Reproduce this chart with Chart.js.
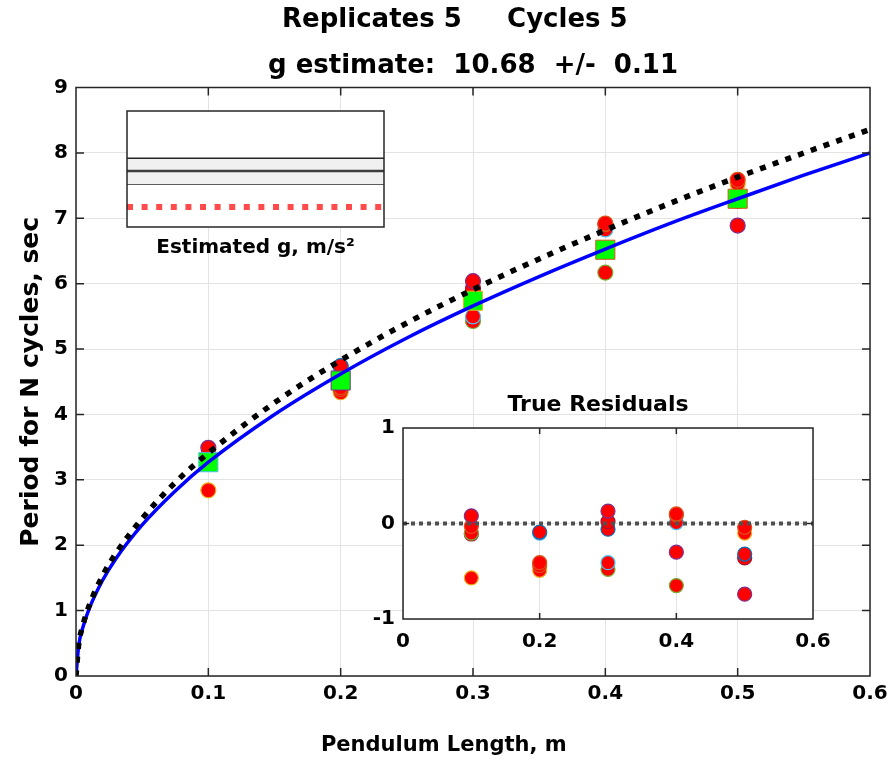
<!DOCTYPE html>
<html>
<head>
<meta charset="utf-8">
<script src="https://cdn.jsdelivr.net/npm/chart.js@4.4.1/dist/chart.umd.min.js"></script>
<style>
  body { margin: 0; background: #fff; }
  #wrap { position: relative; width: 891px; height: 762px; }
  #wrap canvas { position: absolute; }
</style>
</head>
<body>
<div id="wrap">
  <canvas id="mainChart" width="891" height="762" style="left:0;top:0"></canvas>
  <canvas id="gChart" width="277" height="165" style="left:117px;top:101px"></canvas>
  <canvas id="resChart" width="478" height="270" style="left:360px;top:390px"></canvas>
</div>
<script>
// pendulum lengths (m) and the 5 replicate periods
const lengths = [0.1, 0.2, 0.3, 0.4, 0.5];
const rep1 = [3.49, 4.74, 6.04, 6.92, 7.59];
const rep2 = [3.38, 4.73, 5.93, 6.91, 7.53];
const rep3 = [3.31, 4.42, 5.85, 6.83, 7.31];
const rep4 = [3.30, 4.39, 5.50, 6.52, 7.27];
const rep5 = [2.84, 4.34, 5.43, 6.17, 6.89];
const meanPeriod = [3.27, 4.52, 5.74, 6.52, 7.30];

// residuals vs the true curve
const res1 = [0.08, -0.09, 0.13, 0.10, -0.04];
const res2 = [-0.03, -0.10, 0.02, 0.09, -0.10];
const res3 = [-0.10, -0.41, -0.06, 0.01, -0.32];
const res4 = [-0.11, -0.44, -0.41, -0.30, -0.36];
const res5 = [-0.57, -0.49, -0.48, -0.65, -0.74];

// curves (fitted g and true g)
const curveL = [0, 0.002, 0.005, 0.01, 0.02, 0.03, 0.05, 0.075, 0.1, 0.15, 0.2, 0.25, 0.3, 0.35, 0.4, 0.45, 0.5, 0.55, 0.6];
const fitPeriod = [0, 0.46, 0.73, 1.03, 1.46, 1.79, 2.31, 2.83, 3.27, 4.00, 4.62, 5.17, 5.66, 6.11, 6.53, 6.93, 7.30, 7.66, 8.00];
const truePeriod = [0, 0.48, 0.76, 1.08, 1.53, 1.87, 2.41, 2.96, 3.41, 4.18, 4.83, 5.40, 5.91, 6.38, 6.82, 7.24, 7.63, 8.00, 8.36];

// g estimate inset
const gTrue = 9.81;
const gEst = 10.68;
const gLow = 10.37;
const gHigh = 10.99;

// matlab colour order, used for marker edges
const mBlue = '#0072BD', mOrange = '#D95319', mYellow = '#EDB120', mPurple = '#7E2F8E',
      mGreen = '#77AC30', mLight = '#4DBEEE', mRed = '#A2142F';
const edge1 = [mPurple, mBlue, mPurple, mOrange, mOrange];
const edge2 = [mOrange, mLight, mRed, mOrange, mYellow];
const edge3 = [mGreen, mOrange, mBlue, mLight, mBlue];
const edge4 = [mRed, mOrange, mLight, mPurple, mRed];
const edge5 = [mYellow, mYellow, mGreen, mGreen, mPurple];
const meanEdge = [mLight, mPurple, mYellow, mOrange, mOrange];

const pts = (xs, ys) => xs.map((x, i) => ({x: x, y: ys[i]}));

Chart.defaults.font.family = "'DejaVu Sans', sans-serif";
Chart.defaults.font.weight = 'bold';
Chart.defaults.color = '#111';
Chart.defaults.animation = false;

const frameAndTicks = {
  id: 'frameAndTicks',
  beforeDraw: (chart, args, opts) => {
    if (!opts.white) return;
    const {ctx, chartArea: a} = chart;
    ctx.save();
    ctx.fillStyle = '#fff';
    ctx.fillRect(a.left, a.top, a.width, a.height);
    ctx.restore();
  },
  afterDatasetsDraw: (chart, args, opts) => {
    const {ctx, chartArea: a, scales: {x, y}} = chart;
    const len = opts.tickLen || 0;
    ctx.save();
    ctx.strokeStyle = '#262626';
    ctx.lineWidth = 1.5;
    ctx.beginPath();
    if (len) {
      x.ticks.forEach(t => {
        const px = x.getPixelForValue(t.value);
        ctx.moveTo(px, a.bottom); ctx.lineTo(px, a.bottom - len);
        ctx.moveTo(px, a.top); ctx.lineTo(px, a.top + len);
      });
      y.ticks.forEach(t => {
        const py = y.getPixelForValue(t.value);
        ctx.moveTo(a.left, py); ctx.lineTo(a.left + len, py);
        ctx.moveTo(a.right, py); ctx.lineTo(a.right - len, py);
      });
    }
    ctx.rect(a.left, a.top, a.width, a.height);
    ctx.stroke();
    ctx.restore();
  }
};

// keep the last tick label from shrinking the plot area
const noSidePad = s => { s.paddingLeft = 0; s.paddingRight = 0; };

const reps = [rep1, rep2, rep3, rep4, rep5];
const edges = [edge1, edge2, edge3, edge4, edge5];
const residuals = [res1, res2, res3, res4, res5];

// main chart
new Chart(document.getElementById('mainChart'), {
  type: 'scatter',
  data: {
    datasets: [
      {
        label: 'true g',
        data: pts(curveL, truePeriod),
        showLine: true,
        borderColor: '#000',
        borderWidth: 5.5,
        borderDash: [6, 7.5],
        pointRadius: 0,
        cubicInterpolationMode: 'monotone',
        order: 0
      },
      {
        label: 'fit',
        data: pts(curveL, fitPeriod),
        showLine: true,
        borderColor: '#0000ff',
        borderWidth: 3.5,
        pointRadius: 0,
        cubicInterpolationMode: 'monotone',
        order: 1
      },
      {
        label: 'mean',
        data: pts(lengths, meanPeriod),
        pointStyle: 'rect',
        pointRadius: 13.5,
        backgroundColor: '#00ff00',
        borderColor: meanEdge,
        borderWidth: 1,
        order: 2
      },
      ...reps.map((ys, i) => ({
        label: 'rep ' + (i + 1),
        data: pts(lengths, ys),
        pointRadius: 7.5,
        backgroundColor: '#ff0000',
        borderColor: edges[i],
        borderWidth: 1.2,
        order: 3
      }))
    ]
  },
  options: {
    responsive: false,
    events: [],
    layout: { padding: { left: 0, right: 21, top: 0, bottom: 0 } },
    plugins: {
      legend: { display: false },
      tooltip: { enabled: false },
      title: {
        display: true,
        fullSize: false,
        text: ['Replicates 5     Cycles 5    ', 'g estimate:  10.68  +/-  0.11'],
        font: { size: 26, weight: 'bold', lineHeight: 1.8 },
        color: '#000',
        padding: { top: -3.5, bottom: -2.5 }
      },
      frameAndTicks: { tickLen: 8 }
    },
    scales: {
      x: {
        type: 'linear',
        min: 0,
        max: 0.6,
        afterFit: s => { s.height = 86; noSidePad(s); },
        ticks: { stepSize: 0.1, font: { size: 20, weight: 'bold' }, color: '#000', padding: 6 },
        grid: { color: '#e3e3e3', drawTicks: false },
        border: { display: false },
        title: {
          display: true,
          text: 'Pendulum Length, m        ',
          font: { size: 21, weight: 'bold' },
          color: '#000',
          padding: { top: 0, bottom: 4 }
        }
      },
      y: {
        min: 0,
        max: 9,
        afterFit: s => { s.width = 76; },
        ticks: { stepSize: 1, font: { size: 20, weight: 'bold' }, color: '#000', padding: 8 },
        grid: { color: '#e3e3e3', drawTicks: false },
        border: { display: false },
        title: {
          display: true,
          text: 'Period for N cycles, sec',
          font: { size: 25, weight: 'bold' },
          color: '#000',
          padding: { top: 16, bottom: 0 }
        }
      }
    }
  },
  plugins: [frameAndTicks]
});

// estimated g inset
const gX = [0, 1];
new Chart(document.getElementById('gChart'), {
  type: 'scatter',
  data: {
    datasets: [
      { data: pts(gX, [gHigh, gHigh]), showLine: true, borderColor: '#262626', borderWidth: 1.5,
        backgroundColor: '#f0f0f0', fill: '+1', pointRadius: 0, order: 3 },
      { data: pts(gX, [gLow, gLow]), showLine: true, borderColor: '#262626', borderWidth: 1.5,
        pointRadius: 0, order: 3 },
      { data: pts(gX, [gEst, gEst]), showLine: true, borderColor: '#3c3c3c', borderWidth: 2.5,
        pointRadius: 0, order: 1 },
      { data: pts(gX, [gTrue, gTrue]), showLine: true, borderColor: '#ff4b4b', borderWidth: 6,
        borderDash: [6, 8.6], pointRadius: 0, order: 0 }
    ]
  },
  options: {
    responsive: false,
    events: [],
    layout: { padding: { left: 10, right: 10, top: 10, bottom: 0 } },
    plugins: {
      legend: { display: false },
      tooltip: { enabled: false },
      frameAndTicks: { white: true, tickLen: 0 }
    },
    scales: {
      x: {
        type: 'linear', min: 0, max: 1,
        afterFit: s => { s.height = 39; },
        ticks: { display: false },
        grid: { display: false },
        border: { display: false },
        title: {
          display: true,
          text: 'Estimated g, m/s\u00B2',
          font: { size: 20, weight: 'bold' },
          color: '#000',
          padding: { top: 0, bottom: 6 }
        }
      },
      y: { display: false, min: 9.33, max: 12.13 }
    }
  },
  plugins: [frameAndTicks]
});

// residuals inset
const zeroX = [0, 0.6];
const zeroY = [0, 0];
new Chart(document.getElementById('resChart'), {
  type: 'scatter',
  data: {
    datasets: [
      { label: 'zero', data: pts(zeroX, zeroY), showLine: true, borderColor: '#505050', borderWidth: 4,
        borderDash: [4, 4], pointRadius: 0, order: 0 },
      ...residuals.map((ys, i) => ({
        label: 'res ' + (i + 1),
        data: pts(lengths, ys),
        pointRadius: 7,
        backgroundColor: '#ff0000',
        borderColor: edges[i],
        borderWidth: 1.2,
        order: 1
      }))
    ]
  },
  options: {
    responsive: false,
    events: [],
    layout: { padding: { left: 0, right: 25, top: 0, bottom: 0 } },
    plugins: {
      legend: { display: false },
      tooltip: { enabled: false },
      title: {
        display: true,
        text: '   True Residuals',
        font: { size: 22, weight: 'bold', lineHeight: 1.2 },
        color: '#000',
        padding: { top: 2, bottom: 9.6 }
      },
      frameAndTicks: { white: true, tickLen: 6 }
    },
    scales: {
      x: {
        type: 'linear', min: 0, max: 0.6,
        afterFit: s => { s.height = 41; noSidePad(s); },
        ticks: { stepSize: 0.2, font: { size: 20, weight: 'bold' }, color: '#000', padding: 11 },
        grid: { color: '#e3e3e3', drawTicks: false },
        border: { display: false }
      },
      y: {
        min: -1, max: 1,
        afterFit: s => { s.width = 43; },
        ticks: { stepSize: 1, font: { size: 20, weight: 'bold' }, color: '#000', padding: 8 },
        grid: { color: '#e3e3e3', drawTicks: false },
        border: { display: false }
      }
    }
  },
  plugins: [frameAndTicks]
});
</script>
</body>
</html>
